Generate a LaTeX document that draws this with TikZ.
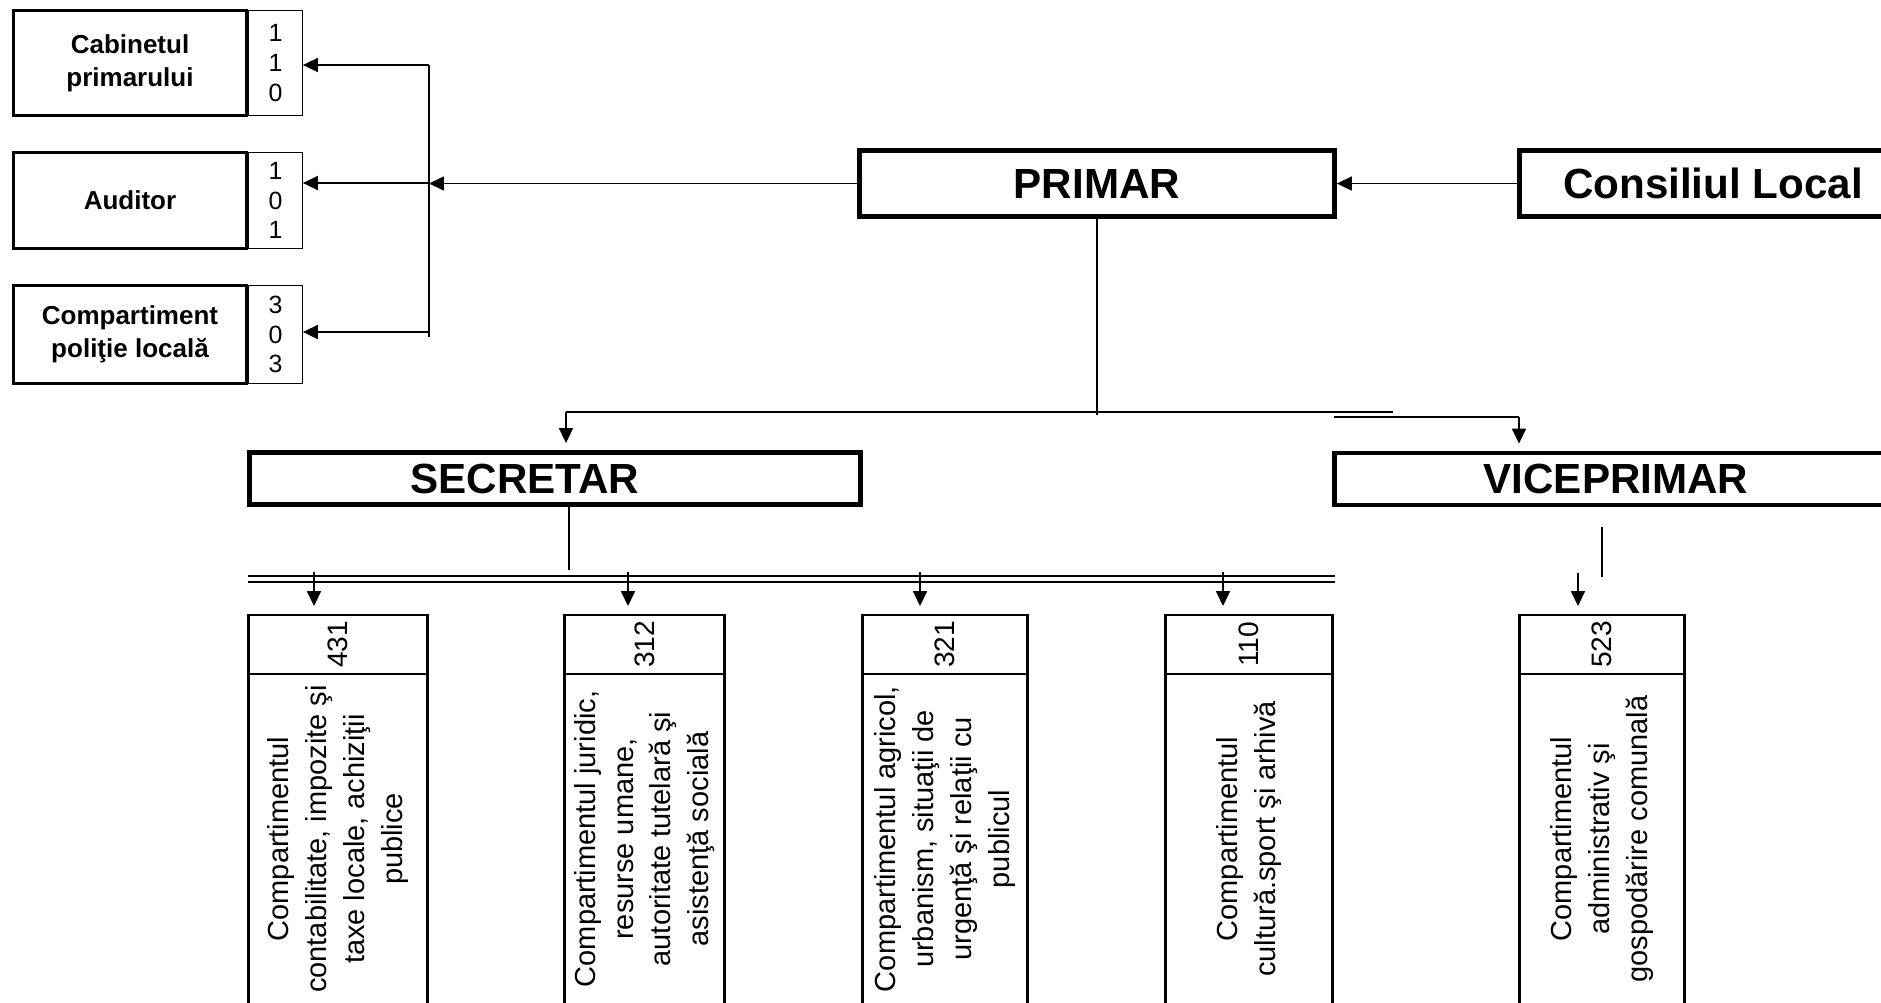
\documentclass[tikz,border=0pt]{standalone}
\usepackage{fontspec}
\setmainfont{Liberation Sans}
\usepackage{graphicx}
\usetikzlibrary{arrows.meta}

\newcommand{\vlabel}[1]{\rotatebox{90}{\begin{tabular}{@{}c@{}}#1\end{tabular}}}

\tikzset{
  leader/.style={draw, line width=2.8pt, inner sep=0pt, minimum height=1.32cm,
    font=\fontsize{24}{28}\selectfont\bfseries},
  unitbox/.style={draw, line width=1.5pt, inner sep=0pt, align=center,
    font=\fontsize{14.8}{18.7}\selectfont\bfseries},
  codebox/.style={draw, line width=0.75pt, inner sep=0pt, align=center,
    font=\fontsize{14.2}{17}\selectfont},
  hdrbox/.style={draw, line width=1.5pt, inner sep=0pt, outer sep=0pt,
    minimum height=1.18cm, font=\fontsize{16}{19}\selectfont},
  deptbox/.style={draw, line width=1.5pt, inner sep=0pt, outer sep=0pt,
    minimum height=6.6cm, anchor=north, font=\fontsize{16.5}{21.5}\selectfont},
  link/.style={line width=0.75pt},
  arr/.style={link, -{Triangle[length=8.5pt,width=8pt]}}
}

\begin{document}
\begin{tikzpicture}[x=0.02cm, y=-0.02cm]
  \useasboundingbox (0,0) rectangle (1881,1002);

  \node[unitbox, minimum width=4.67cm, minimum height=2.11cm] (cab) at (130,63) {Cabinetul\\primarului};
  \node[codebox, minimum width=1.07cm, minimum height=2.11cm] (cabnr) at (275.5,63) {1\\1\\0};
  \node[unitbox, minimum width=4.67cm, minimum height=1.93cm] (aud) at (130,200.5) {Auditor};
  \node[codebox, minimum width=1.07cm, minimum height=1.93cm] (audnr) at (275.5,200.5) {1\\0\\1};
  \node[unitbox, minimum width=4.67cm, minimum height=1.97cm] (pol) at (130,334.5) {Compartiment\\poliţie locală};
  \node[codebox, minimum width=1.07cm, minimum height=1.97cm] (polnr) at (275.5,334.5) {3\\0\\3};

  \node[leader, minimum width=9.5cm] (primar) at (1097,183.5) {PRIMAR};
  \node[leader, minimum width=7.75cm] (consiliu) at (1713,183.5) {Consiliul Local};
  \node[leader, minimum width=12.22cm, minimum height=1.04cm] (secretar) at (555,478.5) {SECRETAR\hspace*{1.2cm}};
  \node[leader, minimum width=11.26cm, minimum height=1.04cm] (vice) at (1616,479) {VICEPRIMAR};

  \node[hdrbox, minimum width=3.59cm] (h1) at (338,644.5) {\rotatebox{90}{431}};
  \node[deptbox, minimum width=3.59cm] (d1) at (h1.south) {\vlabel{Compartimentul\\contabilitate, impozite şi\\taxe locale, achiziţii\\publice}};
  \node[hdrbox, minimum width=3.21cm] (h2) at (644.5,644.5) {\rotatebox{90}{312}};
  \node[deptbox, minimum width=3.21cm] (d2) at (h2.south) {\vlabel{Compartimentul juridic,\\resurse umane,\\autoritate tutelară şi\\asistenţă socială}};
  \node[hdrbox, minimum width=3.31cm] (h3) at (945,644.5) {\rotatebox{90}{321}};
  \node[deptbox, minimum width=3.31cm] (d3) at (h3.south) {\vlabel{Compartimentul agricol,\\urbanism, situaţii de\\urgenţă şi relaţii cu\\publicul}};
  \node[hdrbox, minimum width=3.35cm] (h4) at (1249,644.5) {\rotatebox{90}{110}};
  \node[deptbox, minimum width=3.35cm] (d4) at (h4.south) {\vlabel{Compartimentul\\cultură.sport şi arhivă}};
  \node[hdrbox, minimum width=3.31cm] (h5) at (1602,644.5) {\rotatebox{90}{523}};
  \node[deptbox, minimum width=3.31cm] (d5) at (h5.south) {\vlabel{Compartimentul\\administrativ şi\\gospodărire comunală}};

  \coordinate (b1) at (429,65);
  \coordinate (b2) at (429,183);
  \coordinate (b3) at (429,332);
  \coordinate (bend) at (429,337);
  \coordinate (pj) at (1097,415);
  \coordinate (tl) at (566,412);
  \coordinate (tr) at (1393,412);
  \coordinate (kl) at (1334,417);
  \coordinate (kr) at (1519,417);
  \coordinate (sd) at (569,570);
  \coordinate (dl) at (248,579);
  \coordinate (dr) at (1335,579);
  \coordinate (vt) at (1602,527);
  \coordinate (vb) at (1602,577);
  \coordinate (t1) at (314,572);
  \coordinate (t2) at (628,572);
  \coordinate (t3) at (920,572);
  \coordinate (t4) at (1223,572);
  \coordinate (t5) at (1578,573);

  \draw[link] (b1) -- (bend);
  \draw[arr] (b1) -- (b1 -| cabnr.east);
  \draw[arr] (b2) -- (b2 -| audnr.east);
  \draw[arr] (b3) -- (b3 -| polnr.east);
  \draw[arr] (primar.west) -- (primar.west -| b2);
  \draw[arr] (consiliu.west) -- (primar.east);

  \draw[link] (primar.south) -- (pj);
  \draw[link] (tl) -- (tr);
  \draw[arr, shorten >=0.14cm] (tl) -- (tl |- secretar.north);
  \draw[line width=1.5pt] (kl) -- (kr);
  \draw[arr, shorten >=0.14cm] (kr) -- (kr |- vice.north);

  \draw[link] (secretar.south -| sd) -- (sd);
  \draw[line width=1.5pt, double, double distance=1.9pt] (dl) -- (dr);
  \draw[link] (vt) -- (vb);

  \draw[arr, shorten >=0.18cm] (t1) -- (t1 |- h1.north);
  \draw[arr, shorten >=0.18cm] (t2) -- (t2 |- h2.north);
  \draw[arr, shorten >=0.18cm] (t3) -- (t3 |- h3.north);
  \draw[arr, shorten >=0.18cm] (t4) -- (t4 |- h4.north);
  \draw[arr, shorten >=0.18cm] (t5) -- (t5 |- h5.north);
\end{tikzpicture}
\end{document}
